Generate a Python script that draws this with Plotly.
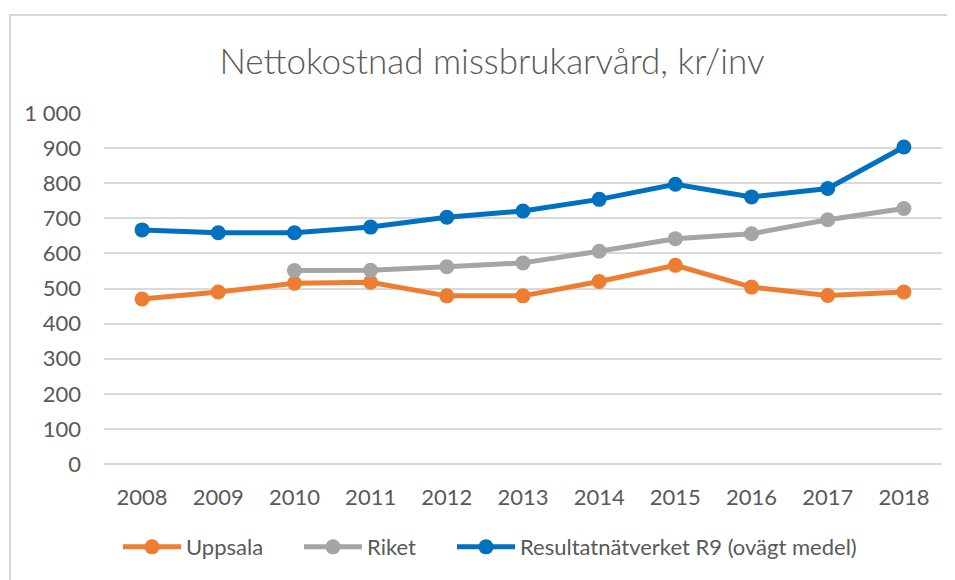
import plotly.graph_objects as go

years = ["2008", "2009", "2010", "2011", "2012", "2013", "2014", "2015", "2016", "2017", "2018"]
uppsala = [470, 490, 515, 518, 479, 479, 520, 566, 504, 480, 490]
riket = [None, None, 551, 552, 562, 573, 606, 642, 656, 696, 728]
r9 = [667, 659, 659, 675, 703, 721, 754, 797, 761, 785, 903]
y_ticks = [0, 100, 200, 300, 400, 500, 600, 700, 800, 900, 1000]

title_text = "Nettokostnad missbrukarvård, kr/inv"
names = ["Uppsala", "Riket", "Resultatnätverket R9 (ovägt medel)"]
colors = ["#ED7D31", "#A5A5A5", "#0070C0"]

# page body has an 8px margin; work in reference-screen pixels and shift
OFF = 8
W, H = 955 - OFF, 580 - OFF
L, T = 104 - OFF, 113 - OFF
pw, ph = 838, 355
R, B = W - L - pw, H - T - ph

def px(x):
    return (x - OFF - L) / pw

def py(y):
    return (H - B - (y - OFF)) / ph

legend_ids = ["legend", "legend2", "legend3"]
legend_left = [118, 299, 452]

fig = go.Figure()
for name, vals, c, lg in zip(names, [uppsala, riket, r9], colors, legend_ids):
    fig.add_trace(go.Scatter(
        x=years, y=vals, name=name, mode="lines+markers",
        line=dict(color=c, width=5),
        marker=dict(color=c, size=15),
        connectgaps=False, legend=lg,
    ))

font_family = "Lato, 'Open Sans', sans-serif"
legend_common = dict(orientation="h", xanchor="left", y=py(552), yanchor="middle",
                     font=dict(size=22, color="#595959", family=font_family), itemwidth=58,
                     bgcolor="rgba(0,0,0,0)")
fig.update_layout(
    width=W, height=H,
    margin=dict(l=L, r=R, t=T, b=B),
    paper_bgcolor="white", plot_bgcolor="white",
    separators=", ",
    font=dict(family=font_family, color="#595959", size=22),
    title=dict(text=title_text, x=(492 - OFF) / W, xanchor="center", xref="container",
               y=1 - (62 - OFF) / H, yanchor="middle", yref="container",
               font=dict(size=35, color="#595959", family=font_family, weight=300)),
    xaxis=dict(type="category", range=[-0.5, 10.5], showgrid=False, showline=False,
               zeroline=False, ticks="", ticklabelstandoff=18,
               tickfont=dict(size=22, color="#595959")),
    yaxis=dict(range=[0, 1000], tickvals=y_ticks, tickformat=",d", showgrid=True,
               gridcolor="#D9D9D9", gridwidth=1.5, zeroline=True, zerolinecolor="#D9D9D9",
               zerolinewidth=1.5, showline=False, ticks="", ticklabelstandoff=22,
               tickfont=dict(size=22, color="#595959")),
    legend=dict(x=px(legend_left[0]), **legend_common),
    legend2=dict(x=px(legend_left[1]), **legend_common),
    legend3=dict(x=px(legend_left[2]), **legend_common),
    showlegend=True,
    shapes=[dict(type="rect", xref="paper", yref="paper",
                 x0=px(10), y0=py(600), x1=px(975), y1=py(14),
                 line=dict(color="#D9D9D9", width=2), fillcolor="rgba(0,0,0,0)", layer="below")],
)

fig.write_html("out.html")
